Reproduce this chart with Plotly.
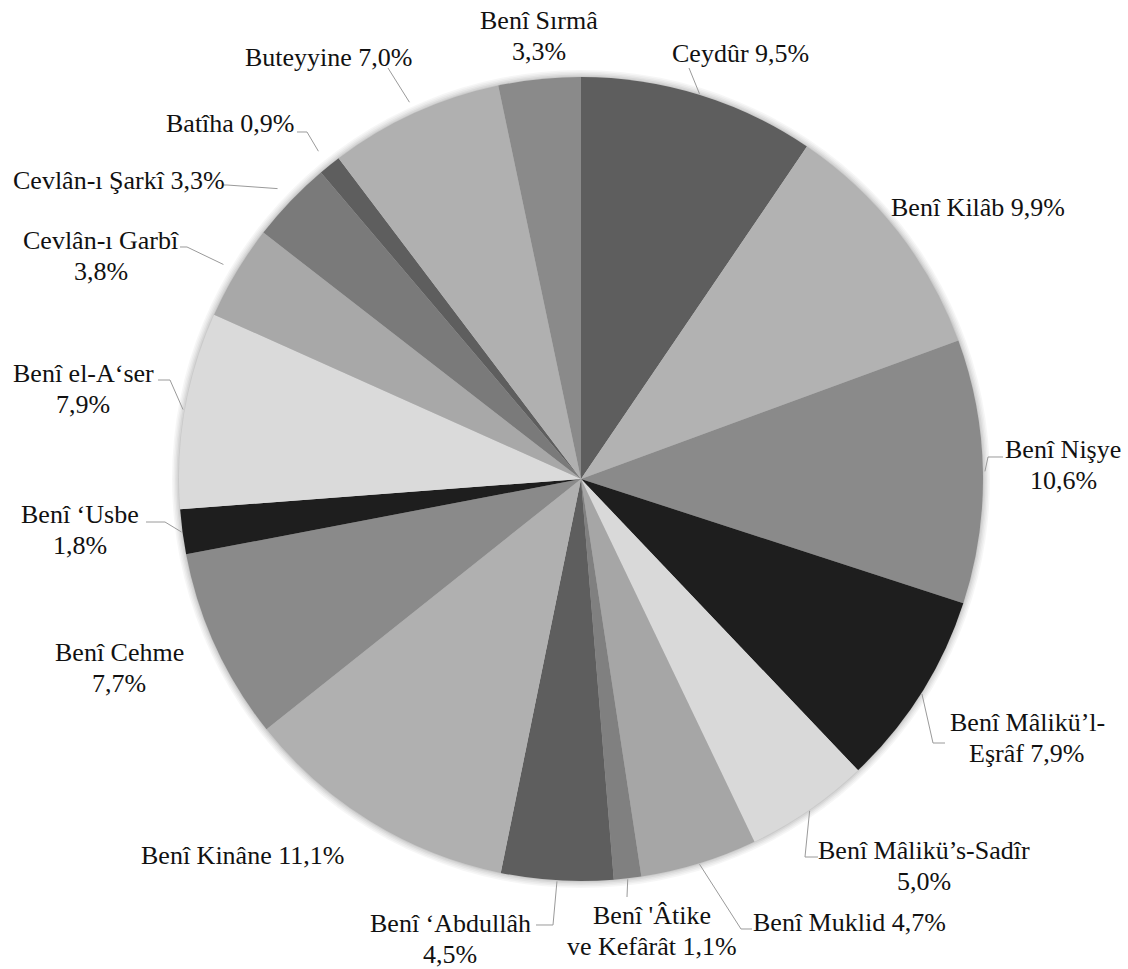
import math
import plotly.graph_objects as go

# ---- data (clockwise from 12 o'clock) ----
names = ["Ceydûr", "Benî Kilâb", "Benî Nişye", "Benî Mâlikü’l-Eşrâf", "Benî Mâlikü’s-Sadîr",
         "Benî Muklid", "Benî 'Âtike ve Kefârât", "Benî ‘Abdullâh", "Benî Kinâne", "Benî Cehme",
         "Benî ‘Usbe", "Benî el-A‘ser", "Cevlân-ı Garbî", "Cevlân-ı Şarkî", "Batîha",
         "Buteyyine", "Benî Sırmâ"]
shares = [9.5, 9.9, 10.6, 7.9, 5.0, 4.7, 1.1, 4.5, 11.1, 7.7, 1.8, 7.9, 3.8, 3.3, 0.9, 7.0, 3.3]
# how each label is broken into lines ({p} = percentage)
label_fmt = ["Ceydûr {p}", "Benî Kilâb {p}", "Benî Nişye|{p}", "Benî Mâlikü’l-|Eşrâf {p}",
             "Benî Mâlikü’s-Sadîr|{p}", "Benî Muklid {p}", "Benî 'Âtike|ve Kefârât {p}",
             "Benî ‘Abdullâh|{p}", "Benî Kinâne {p}", "Benî Cehme|{p}", "Benî ‘Usbe|{p}",
             "Benî el-A‘ser|{p}", "Cevlân-ı Garbî|{p}", "Cevlân-ı Şarkî {p}", "Batîha {p}",
             "Buteyyine {p}", "Benî Sırmâ|{p}"]
colors = ["#5e5e5e", "#b2b2b2", "#8a8a8a", "#1e1e1e", "#d9d9d9", "#a6a6a6", "#808080",
          "#5e5e5e", "#b0b0b0", "#8a8a8a", "#1e1e1e", "#dadada", "#a8a8a8", "#7a7a7a",
          "#5e5e5e", "#b0b0b0", "#8a8a8a"]

# ---- layout (pixels) ----
W, H = 1128, 969
CX, CY, R = 581, 479, 402
LINE = 31
# label centre, radial gap of leader start, leader path points after the start
label_layout = [
    dict(pos=(740, 54), gap=1, path=[(689, 68)]),
    dict(pos=(978, 208), gap=None, path=[]),
    dict(pos=(1063, 465), gap=2, path=[(988, 457), (1003, 457)]),
    dict(pos=(1027, 738), gap=1, path=[(933, 743), (945, 743)]),
    dict(pos=(924, 866), gap=1, path=[(805, 857), (818, 857)]),
    dict(pos=(849, 922), gap=1, path=[(741, 929), (752, 929)]),
    dict(pos=(652, 931), gap=1, path=[(627, 897)]),
    dict(pos=(450, 939), gap=1, path=[(553, 925), (536, 925)]),
    dict(pos=(242, 855), gap=None, path=[]),
    dict(pos=(119, 668), gap=None, path=[]),
    dict(pos=(80, 530), gap=1, path=[(165, 522), (146, 522)]),
    dict(pos=(83, 389), gap=2, path=[(170, 380), (158, 380)]),
    dict(pos=(101, 256), gap=15, path=[(187, 247), (180, 247)]),
    dict(pos=(119, 180), gap=18, path=[(227, 185), (222, 185)]),
    dict(pos=(230, 123), gap=18, path=[(307, 132), (297, 132)]),
    dict(pos=(329, 58), gap=12, path=[(388, 68)]),
    dict(pos=(539, 36), gap=None, path=[]),
]

def px(x):
    return x / W

def py(y):
    return 1 - y / H

fig = go.Figure(go.Pie(
    labels=names, values=shares, sort=False, direction="clockwise", rotation=0,
    marker=dict(colors=colors, line=dict(width=0)),
    textinfo="none", hoverinfo="label+percent", showlegend=False,
    domain=dict(x=[px(CX - R), px(CX + R)], y=[py(CY + R), py(CY - R)]),
))

shapes = []
# soft shadow around the pie
for i, a in enumerate([0.035, 0.035, 0.04, 0.05, 0.06]):
    rr = R + 7 - i * 1.5
    shapes.append(dict(type="circle", xref="paper", yref="paper", layer="below",
                       x0=px(CX - rr), x1=px(CX + rr), y0=py(CY + rr), y1=py(CY - rr),
                       fillcolor=f"rgba(0,0,0,{a})", line=dict(width=0)))

annotations = []
total = sum(shares)
cum = 0.0
for v, fmt, lay in zip(shares, label_fmt, label_layout):
    mid = (cum + v / 2) / total * 2 * math.pi
    cum += v
    pct = f"{v:.1f}".replace(".", ",") + "%"
    x, y = lay["pos"]
    lines = fmt.format(p=pct).split("|")
    n = len(lines)
    for i, ln in enumerate(lines):
        ly = y + (i - (n - 1) / 2) * LINE
        annotations.append(dict(x=px(x), y=py(ly), xref="paper", yref="paper",
                                text=ln, showarrow=False, align="center",
                                xanchor="center", yanchor="middle",
                                font=dict(family="Liberation Serif", size=26, color="#111111")))
    if lay["gap"] is not None:
        rr = R + lay["gap"]
        sx, sy = CX + rr * math.sin(mid), CY - rr * math.cos(mid)
        pts = [(sx, sy)] + lay["path"]
        d = "M " + " L ".join(f"{px(a):.5f},{py(b):.5f}" for a, b in pts)
        shapes.append(dict(type="path", xref="paper", yref="paper", path=d,
                           line=dict(color="#9a9a9a", width=1)))

fig.update_layout(width=W, height=H, margin=dict(l=0, r=0, t=0, b=0),
                  paper_bgcolor="white", plot_bgcolor="white",
                  shapes=shapes, annotations=annotations)

fig.write_html("out.html", config={"displayModeBar": False},
               post_script="document.body.style.margin='0';document.body.style.overflow='hidden';")
